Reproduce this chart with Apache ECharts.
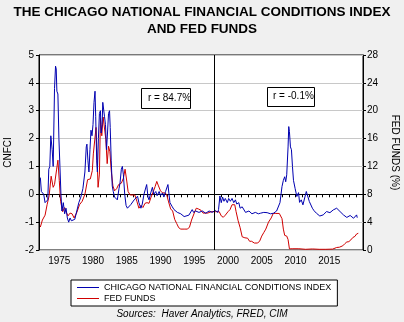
<!DOCTYPE html>
<html><head><meta charset="utf-8">
<script src="https://cdn.jsdelivr.net/npm/echarts@6/dist/echarts.min.js"></script>
<style>html,body{margin:0;padding:0;background:#f0f0f0}#c{width:404px;height:322px}</style>
</head><body><div id="c"></div>
<script>
// Chicago NFCI (left axis), plotted year positions
const nfciYears = [1972.2,1972.35,1972.5,1972.7,1972.9,1973.1,1973.3,1973.45,1973.6,1973.75,1973.85,1973.95,1974.1,1974.3,1974.45,1974.55,1974.65,1974.8,1974.95,1975.1,1975.25,1975.4,1975.6,1975.8,1976.0,1976.2,1976.4,1976.6,1976.8,1977.0,1977.3,1977.6,1977.9,1978.2,1978.5,1978.8,1979.0,1979.1,1979.25,1979.4,1979.55,1979.7,1979.85,1980.0,1980.15,1980.3,1980.4,1980.55,1980.65,1980.8,1980.95,1981.1,1981.2,1981.35,1981.45,1981.55,1981.7,1981.85,1982.0,1982.15,1982.3,1982.45,1982.55,1982.7,1982.85,1983.0,1983.2,1983.4,1983.6,1983.85,1984.0,1984.2,1984.35,1984.5,1984.7,1984.9,1985.1,1985.3,1985.6,1986.1,1986.6,1986.8,1987.1,1987.3,1987.55,1987.95,1988.15,1988.3,1988.55,1988.8,1989.0,1989.3,1989.5,1989.8,1990.0,1990.3,1990.5,1990.75,1991.1,1991.4,1991.75,1992.0,1992.25,1992.5,1993.0,1993.2,1993.5,1993.7,1994.2,1994.45,1994.7,1994.9,1995.2,1995.7,1996.2,1996.7,1997.2,1997.65,1998.1,1998.5,1998.6,1998.8,1999.0,1999.2,1999.4,1999.6,1999.9,2000.1,2000.35,2000.6,2000.85,2001.1,2001.3,2001.6,2001.8,2002.1,2002.6,2003.1,2003.55,2004.05,2004.5,2004.8,2005.3,2005.8,2006.3,2006.75,2007.2,2007.7,2008.0,2008.2,2008.4,2008.55,2008.7,2008.9,2009.0,2009.1,2009.25,2009.4,2009.55,2009.7,2009.95,2010.2,2010.45,2010.6,2010.85,2011.1,2011.3,2011.6,2011.8,2012.05,2012.3,2012.5,2012.75,2013.1,2013.6,2014.1,2014.6,2015.1,2015.6,2016.1,2016.6,2017.1,2017.6,2018.1,2018.6,2019.05,2019.15,2019.3];
const nfciValues = [0.6,0.1,0.05,0.0,-0.3,-0.35,-0.2,0.9,1.0,2.1,2.15,1.6,1.0,3.8,4.6,4.5,3.7,3.6,2.0,1.0,0.0,-0.6,-0.3,-0.7,-0.5,-0.85,-1.0,-0.85,-0.95,-0.9,-0.9,-0.6,-0.3,-0.1,0.2,0.8,1.7,1.8,1.2,0.8,1.6,2.3,2.1,2.5,3.3,3.7,2.8,1.2,0.8,2.0,2.9,3.0,2.2,2.5,3.3,3.3,2.8,2.5,1.6,2.2,2.9,3.0,2.4,1.2,0.3,0.1,-0.1,-0.1,-0.2,0.2,0.4,0.9,1.0,0.7,0.0,-0.4,-0.5,-0.45,-0.37,-0.2,-0.07,-0.3,-0.5,-0.35,0.0,0.35,-0.1,-0.2,0.05,0.25,0.0,0.1,-0.05,0.1,-0.05,0.05,-0.1,0.1,0.35,-0.3,-0.45,-0.55,-0.5,-0.65,-0.7,-0.65,-0.8,-0.85,-0.75,-0.7,-0.55,-0.65,-0.6,-0.65,-0.6,-0.68,-0.6,-0.65,-0.58,-0.65,-0.55,-0.06,-0.3,-0.1,-0.25,-0.15,-0.3,-0.15,-0.25,-0.15,-0.3,-0.2,-0.35,-0.3,-0.5,-0.45,-0.65,-0.6,-0.7,-0.65,-0.7,-0.68,-0.65,-0.66,-0.7,-0.68,-0.6,-0.3,0.28,0.5,0.63,0.45,0.7,1.7,2.43,2.25,1.7,1.6,1.0,0.5,0.2,-0.08,0.06,-0.29,-0.2,-0.38,-0.32,0.1,0.04,-0.26,-0.2,-0.5,-0.59,-0.68,-0.78,-0.74,-0.62,-0.66,-0.56,-0.5,-0.62,-0.74,-0.83,-0.76,-0.86,-0.74,-0.84];
// Fed funds rate (right axis, %)
const ffYears = [1972.2,1972.5,1972.9,1973.2,1973.5,1973.8,1974.1,1974.3,1974.6,1974.8,1975.0,1975.2,1975.5,1975.8,1976.0,1976.3,1976.6,1976.9,1977.2,1977.6,1978.0,1978.4,1978.8,1979.2,1979.6,1979.9,1980.05,1980.2,1980.45,1980.6,1980.75,1980.95,1981.1,1981.3,1981.5,1981.7,1981.9,1982.1,1982.3,1982.5,1982.7,1982.95,1983.2,1983.5,1983.8,1984.2,1984.5,1984.75,1985.0,1985.2,1985.5,1985.8,1986.2,1986.5,1986.8,1987.1,1987.4,1987.7,1988.0,1988.3,1988.6,1988.9,1989.2,1989.45,1989.7,1990.0,1990.3,1990.6,1990.9,1991.2,1991.5,1991.8,1992.1,1992.4,1992.7,1993.0,1993.5,1994.0,1994.3,1994.6,1995.0,1995.3,1995.6,1996.0,1996.3,1997.0,1997.5,1998.2,1998.7,1999.0,1999.3,1999.6,2000.0,2000.3,2000.6,2001.0,2001.2,2001.5,2001.8,2002.1,2002.5,2002.9,2003.2,2003.5,2003.9,2004.4,2004.7,2005.0,2005.3,2005.6,2006.0,2006.4,2006.7,2007.0,2007.6,2007.85,2008.0,2008.2,2008.4,2008.7,2008.9,2009.1,2009.5,2010.5,2011.5,2012.5,2013.5,2014.5,2015.5,2016.1,2016.5,2017.0,2017.3,2017.6,2017.9,2018.2,2018.5,2018.8,2019.05,2019.3];
const ffValues = [3.3,4.3,5.0,6.5,7.8,10.6,9.0,9.4,11.5,12.9,10.0,7.0,5.5,6.1,5.5,4.9,5.3,5.2,4.6,5.4,6.5,7.0,8.0,10.1,10.2,11.4,13.8,14.0,17.6,13.5,9.0,10.9,18.9,16.4,19.1,19.0,15.9,12.4,14.9,14.1,11.4,9.2,8.5,8.8,9.4,9.6,10.3,11.6,9.9,8.4,7.9,7.9,7.9,7.0,6.0,6.4,6.1,6.7,6.8,6.7,7.6,8.3,9.1,9.85,9.2,8.5,8.2,8.2,8.0,6.9,5.9,5.6,4.4,3.8,3.2,3.0,3.0,3.0,3.3,4.3,5.3,6.0,5.9,5.7,5.3,5.3,5.5,5.5,5.5,4.9,4.7,5.0,5.5,5.8,6.5,6.5,5.5,4.2,3.2,1.9,1.75,1.7,1.25,1.25,1.0,1.0,1.3,2.0,2.5,3.0,4.0,4.6,5.25,5.25,5.25,5.0,4.5,3.0,2.1,2.0,1.5,0.16,0.18,0.18,0.1,0.15,0.1,0.1,0.13,0.36,0.4,0.6,0.9,1.15,1.2,1.45,1.8,1.95,2.3,2.4];
const seriesNames = ['CHICAGO NATIONAL FINANCIAL CONDITIONS INDEX','FED FUNDS'];
const splitYear = 1998;
const rLabels = ['r = 84.7%','r = -0.1%'];

const F = 'Liberation Sans, Arial, sans-serif';
const chart = echarts.init(document.getElementById('c'), null, {renderer:'canvas'});
chart.setOption({
  animation:false,
  backgroundColor:'#f0f0f0',
  title:{text:'THE CHICAGO NATIONAL FINANCIAL CONDITIONS INDEX\nAND FED FUNDS',left:'center',top:4,padding:0,
    textStyle:{fontFamily:F,fontWeight:'bold',fontSize:13.5,lineHeight:17,color:'#000'}},
  grid:{left:39,right:41,top:55,bottom:72,containLabel:false,outerBoundsMode:'none',show:true,backgroundColor:'#fff',borderColor:'#000',borderWidth:1},
  legend:{orient:'vertical',left:71,top:280,padding:[3,6,3,6],itemGap:2,itemWidth:22,itemHeight:1,icon:'rect',
    backgroundColor:'#fff',borderColor:'#000',borderWidth:1,
    textStyle:{fontFamily:F,fontSize:9,color:'#000',padding:[0,0,0,0]},data:seriesNames},
  xAxis:{type:'value',min:1972,max:2020,interval:1,
    axisLine:{lineStyle:{color:'#000'}},
    axisTick:{inside:false,length:3,lineStyle:{color:'#000'}},
    splitLine:{show:false},
    axisLabel:{fontFamily:F,fontSize:10,color:'#000',margin:6,formatter:v=>(v%5===0&&v<2020&&v>1972)?String(v):''}},
  yAxis:[{type:'value',min:-2,max:5,interval:1,name:'CNFCI',nameLocation:'middle',nameGap:26,nameRotate:90,
    nameTextStyle:{fontFamily:F,fontSize:10,color:'#000'},
    axisLine:{show:true,lineStyle:{color:'#000'}},axisTick:{show:true,length:3,lineStyle:{color:'#000'}},
    splitLine:{lineStyle:{color:'#c8c8c8'}},
    axisLabel:{fontFamily:F,fontSize:10,color:'#000',margin:5}},
   {type:'value',min:0,max:28,interval:4,position:'right',name:'FED FUNDS (%)',nameLocation:'middle',nameGap:27,nameRotate:-90,
    nameTextStyle:{fontFamily:F,fontSize:10,color:'#000'},
    axisLine:{show:true,lineStyle:{color:'#000'}},axisTick:{show:true,length:3,lineStyle:{color:'#000'}},
    splitLine:{show:false},
    axisLabel:{fontFamily:F,fontSize:10,color:'#000',margin:4}}],
  series:[
    {name:seriesNames[0],type:'line',yAxisIndex:0,symbol:'none',z:3,
     lineStyle:{color:'#0000b0',width:1},itemStyle:{color:'#0000b0'},
     data:nfciYears.map((y,i)=>[y,nfciValues[i]]),
     markLine:{silent:true,symbol:'none',label:{show:false},lineStyle:{color:'#000',type:'solid',width:1},data:[{xAxis:splitYear}]}},
    {name:seriesNames[1],type:'line',yAxisIndex:1,symbol:'none',z:2,
     lineStyle:{color:'#d00000',width:1},itemStyle:{color:'#d00000'},
     data:ffYears.map((y,i)=>[y,ffValues[i]])}
  ],
  graphic:[
    {type:'rect',left:141,top:88,shape:{width:49,height:20},style:{fill:'#fff',stroke:'#000',lineWidth:1}},
    {type:'text',left:148,top:93,style:{text:rLabels[0],font:'10px '+F,fill:'#000'}},
    {type:'rect',left:267,top:87,shape:{width:47,height:19},style:{fill:'#fff',stroke:'#000',lineWidth:1}},
    {type:'text',left:273,top:91,style:{text:rLabels[1],font:'10px '+F,fill:'#000'}},
    {type:'text',left:'center',top:309,style:{text:'Sources:  Haver Analytics, FRED, CIM',font:'italic 10px '+F,fill:'#000'}}
  ]
});
</script></body></html>
